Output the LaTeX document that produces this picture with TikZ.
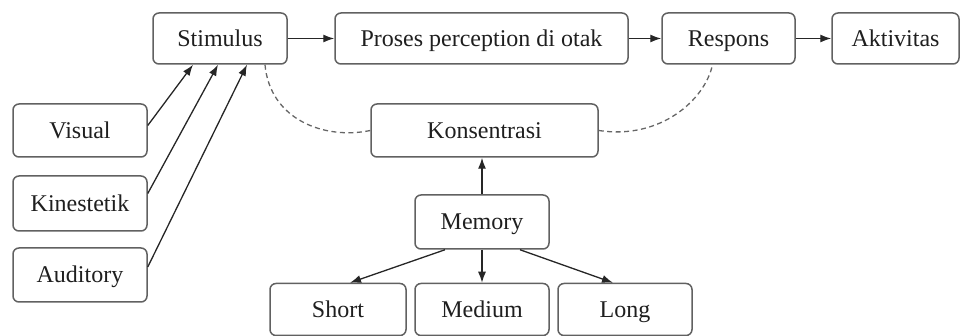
\documentclass[tikz,border=0pt]{standalone}
\usepackage{fontspec}
\setmainfont{Liberation Serif}
\usetikzlibrary{arrows.meta}
\begin{document}
\begin{tikzpicture}[x=1pt,y=-1pt,
  box/.style={draw=black!62, line width=1.5pt, rounded corners=6pt, fill=white,
    inner sep=0pt, text=black!88, text height=18pt, text depth=2pt,
    font=\fontsize{24}{28}\selectfont},
  conn/.style={draw=black!85, line width=1.3pt, -{Latex[length=11pt,width=8pt]}},
  dashconn/.style={draw=black!60, line width=1.3pt, dashed, dash pattern=on 5pt off 3.5pt}]
\useasboundingbox (0,0) rectangle (961,336);
\node[box, minimum width=134pt, minimum height=51pt] (stim) at (220,38.5) {Stimulus};
\node[box, minimum width=293pt, minimum height=51pt] (proses) at (481.5,38.5) {Proses perception di otak};
\node[box, minimum width=133pt, minimum height=51pt] (resp) at (728.5,38.5) {Respons};
\node[box, minimum width=127pt, minimum height=51pt] (akt) at (895.5,38.5) {Aktivitas};
\node[box, minimum width=134pt, minimum height=53pt] (vis) at (80,130.5) {Visual};
\node[box, minimum width=134pt, minimum height=55pt] (kin) at (80,203.5) {Kinestetik};
\node[box, minimum width=134pt, minimum height=54pt] (aud) at (80,275) {Auditory};
\node[box, minimum width=227pt, minimum height=53pt] (kons) at (484.5,130.5) {Konsentrasi};
\node[box, minimum width=134pt, minimum height=54pt] (mem) at (482,222) {Memory};
\node[box, minimum width=136pt, minimum height=52pt] (short) at (338,309.5) {Short};
\node[box, minimum width=134pt, minimum height=52pt] (med) at (482,309.5) {Medium};
\node[box, minimum width=134pt, minimum height=52pt] (long) at (625,309.5) {Long};
\draw[conn] (stim.east) -- (proses.west);
\draw[conn] (proses.east) -- (resp.west);
\draw[conn] (resp.east) -- (akt.west);
\draw[conn] ([yshift=5pt]vis.east) -- ([xshift=-27pt]stim.south);
\draw[conn] ([yshift=10pt]kin.east) -- ([xshift=-2pt]stim.south);
\draw[conn] ([yshift=8pt]aud.east) -- ([xshift=27pt]stim.south);
\draw[conn] (mem.north) -- (mem.north |- kons.south);
\draw[conn] (mem.south) -- (med.north);
\draw[conn] ([xshift=-37pt]mem.south) -- ([xshift=12pt]short.north);
\draw[conn] ([xshift=38pt]mem.south) -- ([xshift=-12pt]long.north);
\draw[dashconn] ([xshift=45pt]stim.south) .. controls (270,120) and (325,140) .. (kons.west);
\draw[dashconn] (kons.east) .. controls (660,140) and (705,100) .. ([xshift=-16pt]resp.south);
\end{tikzpicture}
\end{document}
